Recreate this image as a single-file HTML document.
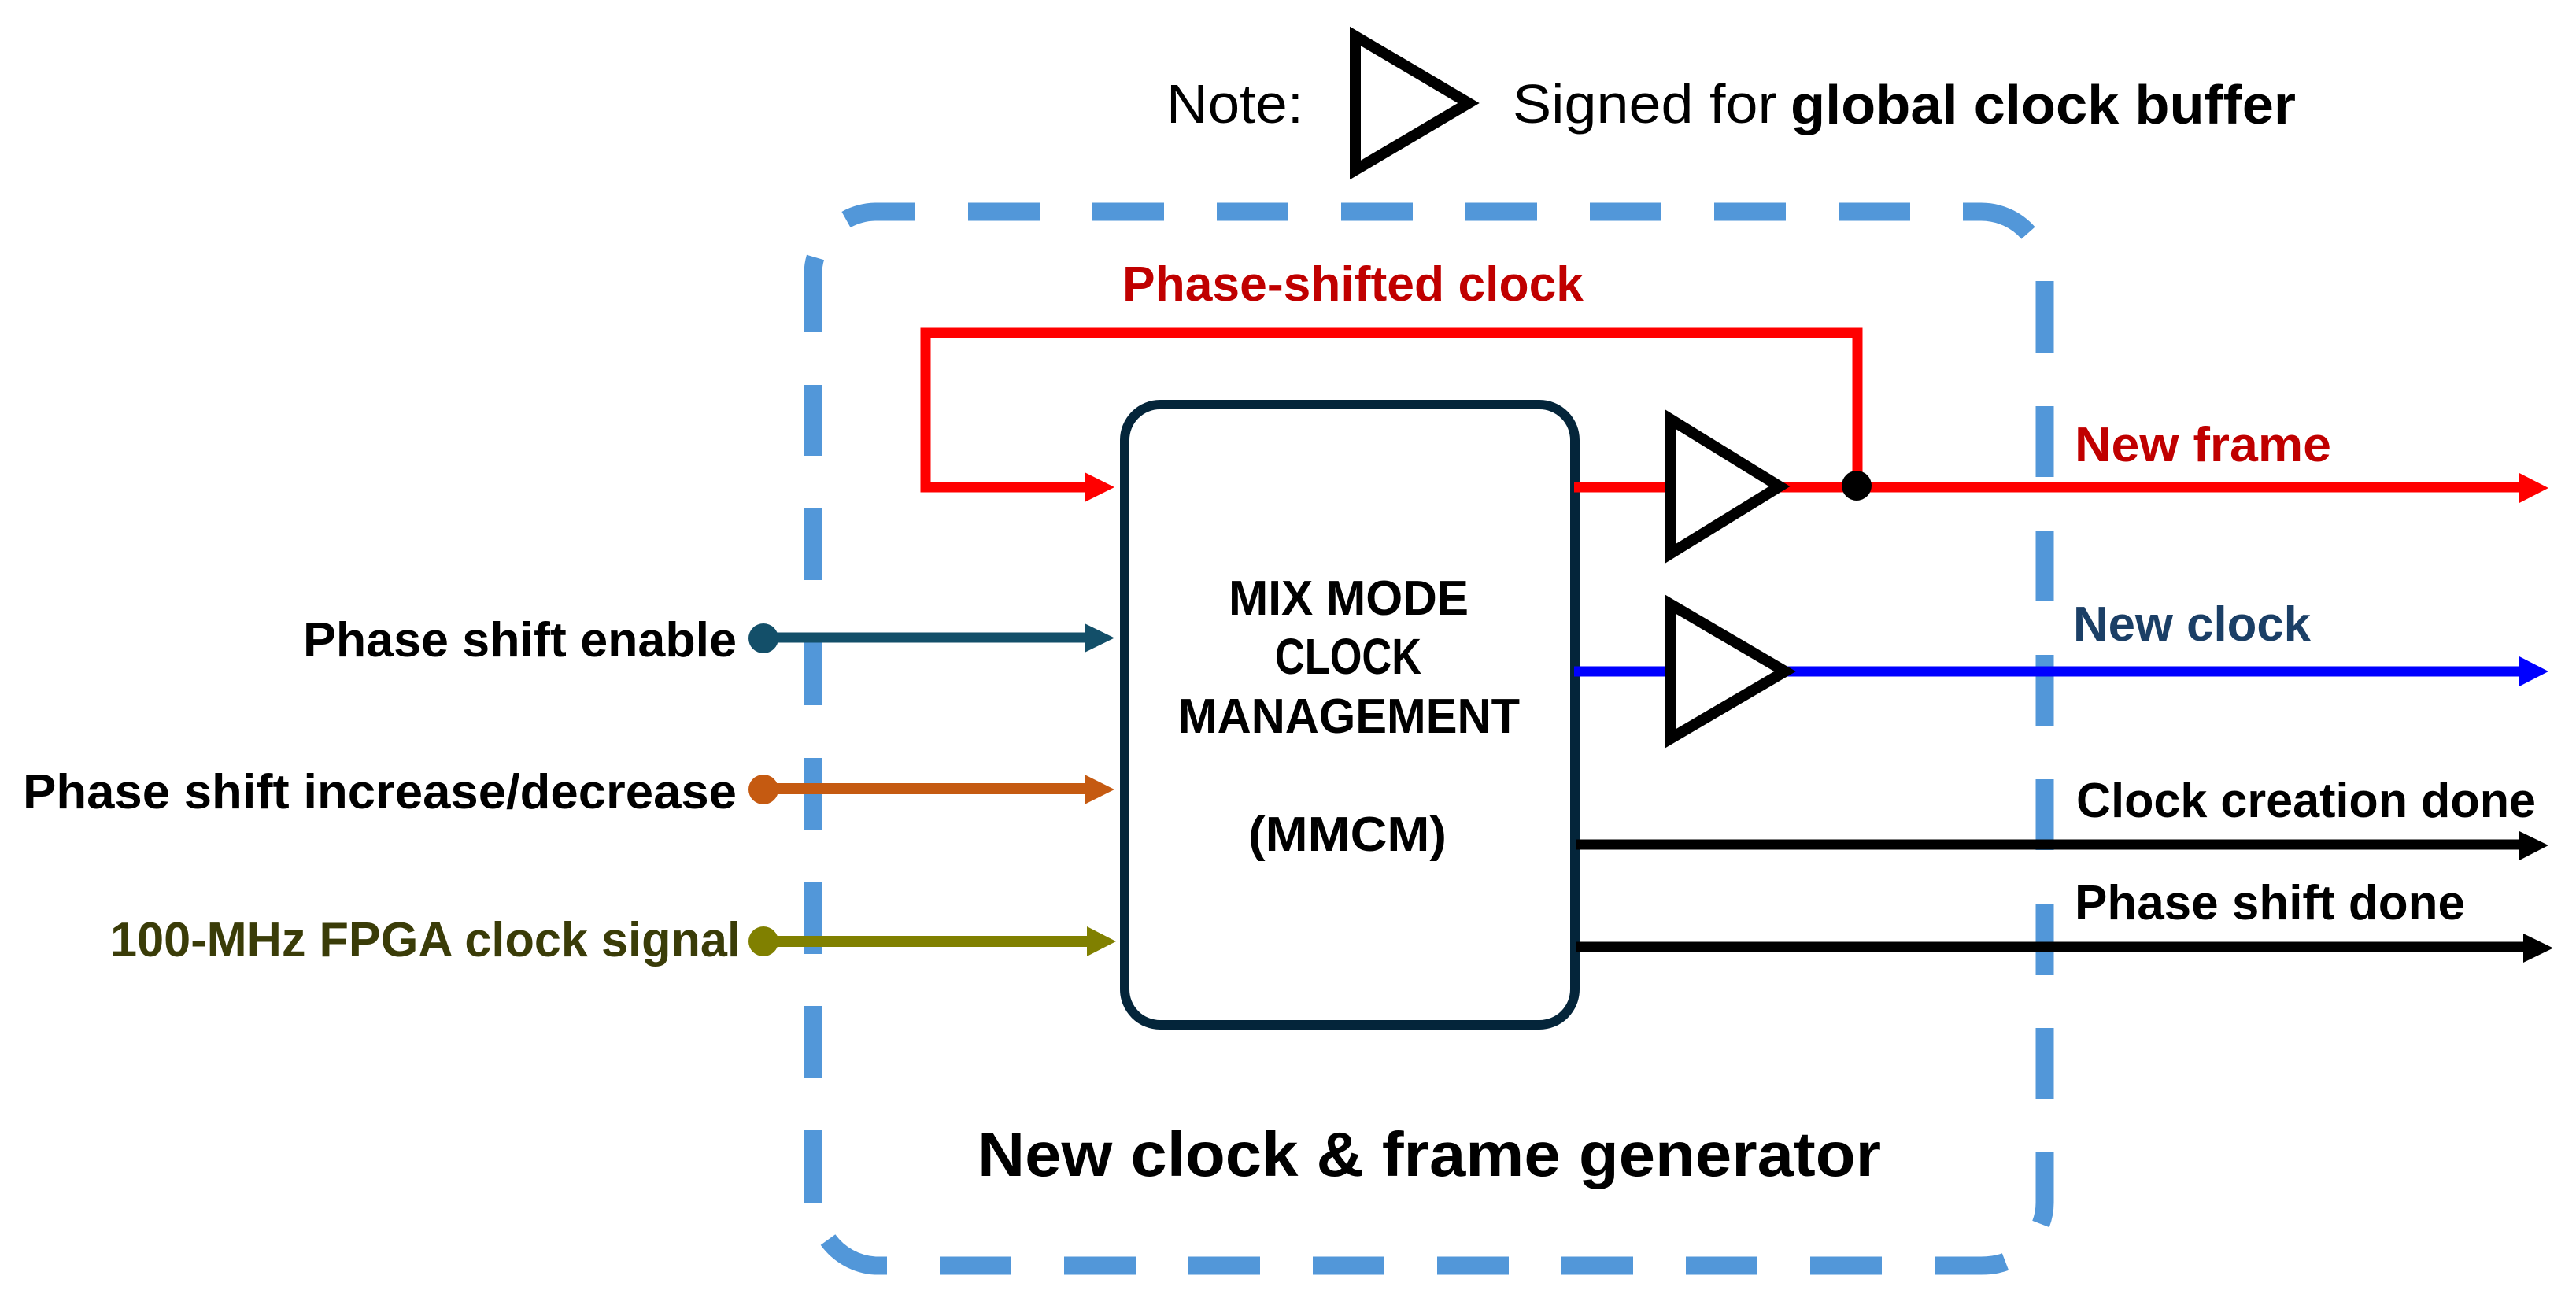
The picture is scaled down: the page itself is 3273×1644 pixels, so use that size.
<!DOCTYPE html>
<html>
<head>
<meta charset="utf-8">
<style>
html,body{margin:0;padding:0;background:#fff;}
svg{display:block;}
text{font-family:"Liberation Sans",sans-serif;font-weight:700;fill:#000;}
</style>
</head>
<body>
<svg xmlns="http://www.w3.org/2000/svg" width="3273" height="1644" viewBox="0 0 3273 1644">
<rect width="3273" height="1644" fill="#fff"/>

<!-- dashed container -->
<g fill="none" stroke="#5297d9" stroke-width="23">
  <path d="M1163 269H1112A80 80 0 0 0 1075 279"/>
  <path d="M1230 269h91M1388 269h91M1546 269h91M1704 269h91M1862 269h91M2020 269h91M2178 269h91M2336 269h91"/>
  <path d="M2494 269H2517A80 80 0 0 1 2577 296"/>
  <path d="M1033 422V348Q1033 337 1036 327"/>
  <path d="M1033 489v90M1033 646v91M1033 814v82M1033 963v91M1033 1120v92M1033 1278v92M1033 1436v92"/>
  <path d="M1127 1608H1112A80 80 0 0 1 1052 1575"/>
  <path d="M1194 1608h91M1352 1608h91M1510 1608h91M1668 1608h91M1826 1608h91M1984 1608h91M2142 1608h91M2300 1608h91"/>
  <path d="M2458 1608H2517Q2535 1608 2548 1603"/>
  <path d="M2598 357v91M2598 516v90M2598 674v90M2598 832v90M2598 990v90M2598 1148v91M2598 1306v90"/>
  <path d="M2598 1463V1528Q2598 1542 2593 1555"/>
</g>

<!-- main box -->
<rect x="1429" y="514" width="572" height="788" rx="45" ry="45" fill="#fff" stroke="#04253a" stroke-width="12"/>

<!-- feedback -->
<path d="M2360 619V423H1176V619H1385" fill="none" stroke="#ff0000" stroke-width="13"/>
<polygon points="1378,600 1416,619 1378,638" fill="#ff0000"/>

<!-- input lines -->
<line x1="970" y1="810" x2="1385" y2="810" stroke="#134f69" stroke-width="13"/>
<circle cx="970" cy="811" r="19" fill="#134f69"/>
<polygon points="1378,792 1416,810.5 1378,829" fill="#134f69"/>

<line x1="970" y1="1002" x2="1385" y2="1002" stroke="#c55a11" stroke-width="14"/>
<circle cx="970" cy="1003" r="19" fill="#c55a11"/>
<polygon points="1378,984 1416,1003 1378,1022" fill="#c55a11"/>

<line x1="970" y1="1196" x2="1388" y2="1196" stroke="#808000" stroke-width="14"/>
<circle cx="970" cy="1196" r="19" fill="#808000"/>
<polygon points="1381,1177 1418,1196 1381,1215" fill="#808000"/>

<!-- output lines -->
<line x1="2000" y1="619" x2="3205" y2="619" stroke="#ff0000" stroke-width="13"/>
<polygon points="3201,601 3238,620 3201,639" fill="#ff0000"/>
<line x1="2000" y1="853" x2="3205" y2="853" stroke="#0000ff" stroke-width="13"/>
<polygon points="3201,834 3238,853 3201,872" fill="#0000ff"/>
<line x1="2003" y1="1073" x2="3205" y2="1073" stroke="#000" stroke-width="13"/>
<polygon points="3201,1056 3238,1074 3201,1093" fill="#000"/>
<line x1="2003" y1="1203" x2="3210" y2="1203" stroke="#000" stroke-width="13"/>
<polygon points="3206,1186 3244,1204.5 3206,1223" fill="#000"/>

<!-- buffers -->
<g fill="#fff" stroke="#000" stroke-width="14" stroke-miterlimit="10">
  <polygon points="1722,46 1866,131 1722,216"/>
  <polygon points="2123,533 2261,618 2123,703"/>
  <polygon points="2123,768 2268,853 2123,938"/>
</g>
<circle cx="2359" cy="617" r="19" fill="#000"/>

<!-- text -->
<g font-size="62" lengthAdjust="spacingAndGlyphs">
<text x="1482" y="156" font-size="70" style="font-weight:400" textLength="174" lengthAdjust="spacingAndGlyphs">Note:</text>
<text x="1922" y="156" font-size="70" style="font-weight:400" textLength="336" lengthAdjust="spacingAndGlyphs">Signed for</text>
<text x="2275" y="157" font-size="70" textLength="642" lengthAdjust="spacingAndGlyphs">global clock buffer</text>

<text x="1426" y="382" font-size="62" style="fill:#c00000" textLength="586" lengthAdjust="spacingAndGlyphs">Phase-shifted clock</text>
<text x="2636" y="586" font-size="62" style="fill:#c00000" textLength="326" lengthAdjust="spacingAndGlyphs">New frame</text>
<text x="2634" y="814" font-size="62" style="fill:#1b3f66" textLength="302" lengthAdjust="spacingAndGlyphs">New clock</text>
<text x="2638" y="1038" font-size="62" textLength="584" lengthAdjust="spacingAndGlyphs">Clock creation done</text>
<text x="2636" y="1168" font-size="62" textLength="496" lengthAdjust="spacingAndGlyphs">Phase shift done</text>

<text x="385" y="834" font-size="62" textLength="551" lengthAdjust="spacingAndGlyphs">Phase shift enable</text>
<text x="29" y="1027" font-size="62" textLength="907" lengthAdjust="spacingAndGlyphs">Phase shift increase/decrease</text>
<text x="140" y="1215" font-size="62" style="fill:#3a3c08" textLength="801" lengthAdjust="spacingAndGlyphs">100-MHz FPGA clock signal</text>

<text x="1561" y="781" font-size="62" textLength="305" lengthAdjust="spacingAndGlyphs">MIX MODE</text>
<text x="1620" y="856" font-size="64" textLength="186" lengthAdjust="spacingAndGlyphs">CLOCK</text>
<text x="1497" y="931" font-size="62" textLength="434" lengthAdjust="spacingAndGlyphs">MANAGEMENT</text>
<text x="1586" y="1081" font-size="62" textLength="252" lengthAdjust="spacingAndGlyphs">(MMCM)</text>

<text x="1242" y="1494" font-size="80" textLength="1148" lengthAdjust="spacingAndGlyphs">New clock &amp; frame generator</text>
</g>
</svg>
</body>
</html>
